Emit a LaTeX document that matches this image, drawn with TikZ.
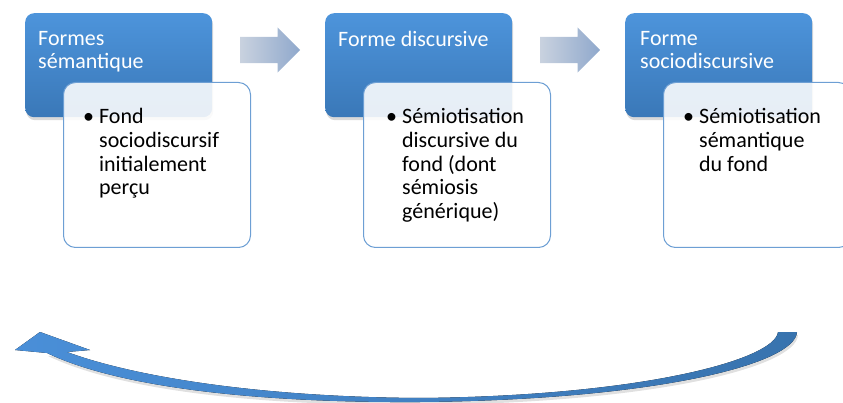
\documentclass[tikz,border=0pt]{standalone}
\usepackage{fontspec}
\setmainfont{Carlito}
\usetikzlibrary{positioning, shapes.arrows, shadows, calc}

\definecolor{formtop}{HTML}{4D94DB}
\definecolor{formbot}{HTML}{3A78B8}
\definecolor{fondline}{HTML}{6D9FD4}
\definecolor{passleft}{HTML}{C9D2DF}
\definecolor{passright}{HTML}{8FA8CC}
\definecolor{retleft}{HTML}{4A8FD8}
\definecolor{retright}{HTML}{3873AE}

\tikzset{
  formbox/.style={rectangle, rounded corners=9pt, minimum width=187pt, minimum height=104pt,
    anchor=north west, top color=formtop, bottom color=formbot,
    drop shadow={opacity=.3, shadow xshift=1pt, shadow yshift=-3pt}},
  formtitle/.style={anchor=north west, inner sep=0pt, text=white, align=left,
    font=\fontsize{22}{23}\selectfont},
  fondbox/.style={rectangle, rounded corners=12pt, minimum width=187pt, minimum height=165pt,
    anchor=north west, draw=fondline, line width=1pt, fill=white, fill opacity=.88},
  fondtext/.style={anchor=north west, inner sep=0pt, font=\fontsize{22}{23.7}\selectfont},
  passarrow/.style={single arrow, single arrow head extend=9.5pt, minimum height=60pt,
    inner xsep=0pt, inner ysep=13pt, anchor=west, left color=passleft, right color=passright}
}

\newcommand{\fondlines}[1]{\textbullet\hspace{5pt}\begin{tabular}[t]{@{}l@{}}#1\end{tabular}}

\begin{document}
\begin{tikzpicture}[x=1pt, y=-1pt]
  \useasboundingbox (0,0) rectangle (843,403);

  % forms
  \node[formbox] (f1) at (25,13) {};
  \node[formbox] (f2) at (325,13) {};
  \node[formbox] (f3) at (625,13) {};
  \node[formtitle] (t1) at ([shift={(13,18)}]f1.north west) {Formes\\sémantique};
  \node[formtitle] (t2) at ([shift={(13,18)}]f2.north west) {Forme discursive};
  \node[formtitle] (t3) at ([shift={(15,18)}]f3.north west) {Forme\\sociodiscursive};

  % content boxes
  \node[fondbox] (c1) at ([shift={(38,69)}]f1.north west) {};
  \node[fondbox] (c2) at ([shift={(38,69)}]f2.north west) {};
  \node[fondbox] (c3) at ([shift={(38,69)}]f3.north west) {};
  \node[fondtext] (b1) at ([shift={(20,25)}]c1.north west) {\fondlines{Fond\\sociodiscursif\\initialement\\perçu}};
  \node[fondtext] (b2) at ([shift={(23,25)}]c2.north west) {\fondlines{Sémiotisation\\discursive du\\fond (dont\\sémiosis\\générique)}};
  \node[fondtext] (b3) at ([shift={(20,25)}]c3.north west) {\fondlines{Sémiotisation\\sémantique\\du fond}};

  % arrows between
  \node[passarrow] (a1) at (240,50) {};
  \node[passarrow] (a2) at (540,50) {};

  % return arrow
  \coordinate (rstart) at (797,332);
  \coordinate (rtip) at (40,332);
  \fill[black, opacity=.12]
    ([shift={(1,3)}]rstart) .. controls (796,368) and (651,403) .. (421,405)
    .. controls (261,406) and (121,391) .. (48,356) -- (68,355)
    .. controls (136,380) and (261,400) .. (421,401)
    .. controls (641,399) and (776,363) .. (779,335) -- cycle;
  \fill[left color=retleft, right color=retright]
    (rstart) .. controls (795,365) and (650,400) .. (420,402)
    .. controls (260,403) and (120,388) .. (47,353)
    -- (15,350) -- (rtip) -- (90,350) -- (67,352)
    .. controls (135,377) and (260,397) .. (420,398)
    .. controls (640,396) and (775,360) .. (778,332) -- cycle;
\end{tikzpicture}
\end{document}
